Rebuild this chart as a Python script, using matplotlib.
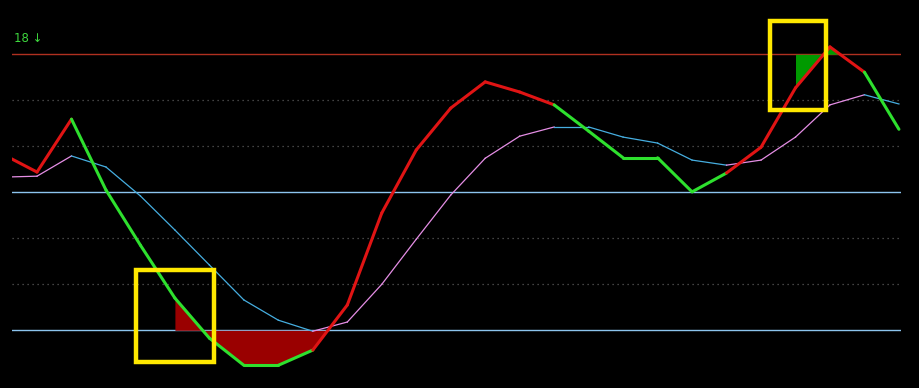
import numpy as np
from matplotlib import pyplot as plt
from matplotlib.patches import Rectangle

# indicator values (one per bar)
main_line = [58.3, 54.4, 65.9, 50.5, 38.5, 27.0, 18.3, 12.4, 12.4, 15.7,
             25.5, 45.5, 59.2, 68.3, 74.0, 71.8, 69.0, 63.3, 57.5, 57.5,
             50.1, 54.2, 59.8, 72.7, 81.6, 76.1, 63.7]
signal_line = [53.3, 53.5, 57.9, 55.5, 49.2, 41.8, 34.2, 26.6, 22.2, 19.8,
               21.8, 30.0, 39.8, 49.4, 57.4, 62.2, 64.2, 64.2, 62.0, 60.7,
               57.0, 55.9, 57.0, 62.0, 69.0, 71.2, 69.2]
# 1 = red segment, 0 = green segment (colour of main line between bar i and i+1)
main_up = [1, 1, 0, 0, 0, 0, 0, 0, 0, 1, 1, 1, 1, 1, 1, 1,
           0, 0, 0, 0, 0, 1, 1, 1, 1, 0]
levels_mid = [50, 20]
level_top = 80
grid_levels = [30, 40, 60, 70]
low_fill_start = 5
high_fill_start = 23
boxes = [(3.886, 13.1, 2.262, 20.1), (22.26, 67.9, 1.62, 19.3)]

x = np.arange(len(main_line))
main = np.array(main_line)
sig = np.array(signal_line)

fig = plt.figure(figsize=(9.19, 3.88), dpi=100)
fig.patch.set_facecolor("black")
ax = fig.add_axes([12 / 919, 0, 889 / 919, 1])
ax.set_facecolor("black")
ax.set_xlim(0.275, 26.06)
ax.set_ylim(7.46, 91.8)
ax.axis("off")

for lv in grid_levels:
    ax.axhline(lv, color="#5a5a5a", lw=0.9, ls=(0, (1, 3)))
for lv in levels_mid:
    ax.axhline(lv, color="#8cc4ee", lw=1.0)
ax.axhline(level_top, color="#b03020", lw=1.0)


def fill_zone(start, level, up, color):
    # fill from bar `start` until the main line crosses back through `level`
    xf = np.linspace(start, len(main) - 1, 2000)
    yf = np.interp(xf, x, main)
    if up:
        stop = np.where((xf > start + 1) & (yf < level))[0]
    else:
        stop = np.where((xf > start + 1) & (yf > level))[0]
    end = stop[0] if len(stop) else len(xf)
    ax.fill_between(xf[:end], yf[:end], level, color=color, lw=0, zorder=2)


fill_zone(low_fill_start, levels_mid[1], False, "#9a0000")
fill_zone(high_fill_start, level_top, True, "#009a00")

for i in range(len(sig) - 1):
    c = "#e58ee5" if sig[i + 1] > sig[i] else "#46aee0"
    ax.plot(x[i:i + 2], sig[i:i + 2], color=c, lw=0.9, zorder=3)

for i in range(len(main) - 1):
    c = "#e01414" if main_up[i] else "#2ee02e"
    ax.plot(x[i:i + 2], main[i:i + 2], color=c, lw=2.2, zorder=4,
            solid_capstyle="round")

for bx, by, bw, bh in boxes:
    ax.add_patch(Rectangle((bx, by), bw, bh, fill=False, ec="#ffe800",
                           lw=3.2, zorder=5))

fig.text(14 / 919, 1 - 39 / 388, "18 \u2193", color="#3ed83e", fontsize=8.5,
         va="center", ha="left", family=["DejaVu Sans"])

fig.savefig("out.png", dpi=100, facecolor="black")
